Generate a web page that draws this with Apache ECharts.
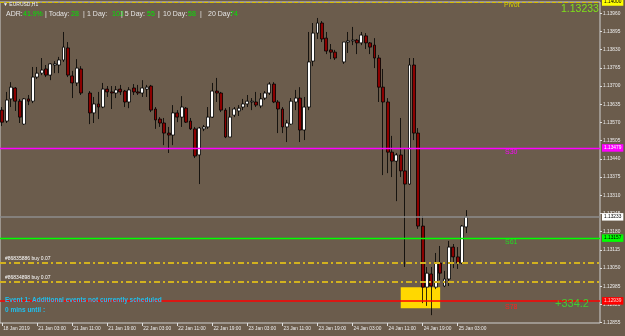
<!DOCTYPE html>
<html>
<head>
  <meta charset="UTF-8">
  <title>EURUSD,H1</title>
  <script src="https://cdn.jsdelivr.net/npm/echarts@6/dist/echarts.min.js"></script>
  <style>
    html, body { margin: 0; padding: 0; background: #6b5c4c; }
    #chart { width: 625px; height: 336px; }
  </style>
</head>
<body>
  <div id="chart"></div>
  <script>
    // H1 candles, [open, close, low, high], '-' = no bar drawn
    const candles = [
      [1.13614, 1.13571, 1.13557, 1.13625],
      [1.13575, 1.13650, 1.13568, 1.13679],
      [1.13654, 1.13696, 1.13625, 1.13714],
      [1.13693, 1.13646, 1.13611, 1.13696],
      [1.13646, 1.13589, 1.13568, 1.13654],
      [1.13564, 1.13654, 1.13561, 1.13657],
      [1.13654, 1.13646, 1.13632, 1.13668],
      [1.13646, 1.13732, 1.13639, 1.13768],
      [1.13732, 1.13746, 1.13725, 1.13768],
      [1.13746, 1.13757, 1.13739, 1.13800],
      [1.13761, 1.13739, 1.13732, 1.13775],
      [1.13739, 1.13779, 1.13721, 1.13782],
      [1.13775, 1.13779, 1.13746, 1.13789],
      [1.13775, 1.13793, 1.13746, 1.13804],
      [1.13793, 1.13839, 1.13786, 1.13893],
      [1.13836, 1.13739, 1.13732, 1.13857],
      [1.13736, 1.13711, 1.13657, 1.13754],
      [1.13711, 1.13764, 1.13700, 1.13796],
      [1.13761, 1.13675, 1.13668, 1.13771],
      '-',
      [1.13675, 1.13604, 1.13564, 1.13682],
      [1.13604, 1.13636, 1.13568, 1.13661],
      [1.13636, 1.13625, 1.13582, 1.13679],
      [1.13625, 1.13689, 1.13621, 1.13711],
      [1.13689, 1.13679, 1.13661, 1.13700],
      [1.13679, 1.13675, 1.13618, 1.13700],
      [1.13675, 1.13686, 1.13657, 1.13700],
      [1.13689, 1.13679, 1.13668, 1.13704],
      [1.13682, 1.13643, 1.13625, 1.13686],
      [1.13643, 1.13686, 1.13621, 1.13696],
      [1.13693, 1.13679, 1.13668, 1.13707],
      [1.13679, 1.13675, 1.13668, 1.13704],
      [1.13675, 1.13693, 1.13661, 1.13721],
      [1.13689, 1.13696, 1.13661, 1.13704],
      [1.13700, 1.13614, 1.13607, 1.13704],
      [1.13618, 1.13579, 1.13547, 1.13625],
      [1.13582, 1.13568, 1.13554, 1.13589],
      [1.13568, 1.13532, 1.13489, 1.13586],
      [1.13532, 1.13525, 1.13461, 1.13554],
      [1.13525, 1.13604, 1.13489, 1.13632],
      [1.13604, 1.13589, 1.13571, 1.13614],
      [1.13589, 1.13625, 1.13554, 1.13664],
      [1.13621, 1.13571, 1.13568, 1.13625],
      [1.13575, 1.13547, 1.13543, 1.13586],
      [1.13547, 1.13450, 1.13443, 1.13554],
      [1.13454, 1.13550, 1.13350, 1.13554],
      [1.13547, 1.13554, 1.13539, 1.13561],
      [1.13554, 1.13589, 1.13547, 1.13625],
      [1.13589, 1.13682, 1.13586, 1.13711],
      [1.13682, 1.13675, 1.13643, 1.13729],
      [1.13675, 1.13614, 1.13607, 1.13679],
      [1.13614, 1.13518, 1.13514, 1.13621],
      [1.13518, 1.13589, 1.13518, 1.13625],
      [1.13596, 1.13618, 1.13589, 1.13625],
      [1.13611, 1.13621, 1.13593, 1.13632],
      [1.13625, 1.13636, 1.13614, 1.13654],
      [1.13636, 1.13646, 1.13625, 1.13668],
      [1.13643, 1.13646, 1.13614, 1.13657],
      [1.13643, 1.13632, 1.13625, 1.13679],
      [1.13629, 1.13654, 1.13621, 1.13675],
      [1.13657, 1.13675, 1.13650, 1.13682],
      [1.13675, 1.13707, 1.13668, 1.13714],
      [1.13707, 1.13643, 1.13639, 1.13714],
      [1.13643, 1.13618, 1.13532, 1.13650],
      [1.13618, 1.13554, 1.13532, 1.13625],
      [1.13554, 1.13568, 1.13500, 1.13579],
      [1.13564, 1.13646, 1.13561, 1.13657],
      [1.13643, 1.13657, 1.13614, 1.13686],
      [1.13657, 1.13543, 1.13500, 1.13696],
      [1.13543, 1.13625, 1.13507, 1.13661],
      [1.13625, 1.13786, 1.13614, 1.13893],
      [1.13789, 1.13889, 1.13771, 1.13925],
      [1.13889, 1.13925, 1.13868, 1.13943],
      [1.13925, 1.13868, 1.13857, 1.13932],
      [1.13871, 1.13825, 1.13814, 1.13893],
      [1.13829, 1.13821, 1.13796, 1.13850],
      [1.13821, 1.13800, 1.13793, 1.13829],
      '-',
      [1.13786, 1.13857, 1.13779, 1.13857],
      [1.13857, 1.13861, 1.13818, 1.13893],
      [1.13861, 1.13864, 1.13846, 1.13911],
      [1.13864, 1.13854, 1.13814, 1.13868],
      [1.13854, 1.13882, 1.13846, 1.13893],
      [1.13879, 1.13854, 1.13832, 1.13889],
      [1.13854, 1.13839, 1.13814, 1.13857],
      [1.13846, 1.13800, 1.13764, 1.13871],
      [1.13800, 1.13696, 1.13643, 1.13811],
      [1.13696, 1.13643, 1.13382, 1.13761],
      [1.13643, 1.13464, 1.13389, 1.13657],
      [1.13464, 1.13432, 1.13375, 1.13522],
      [1.13432, 1.13454, 1.13289, 1.13461],
      [1.13454, 1.13397, 1.13375, 1.13586],
      [1.13397, 1.13350, 1.13054, 1.13475],
      [1.13350, 1.13775, 1.13347, 1.13800],
      [1.13775, 1.13532, 1.13507, 1.13800],
      [1.13532, 1.13200, 1.13190, 1.13550],
      [1.13200, 1.12982, 1.12925, 1.13236],
      [1.12982, 1.13032, 1.12915, 1.13054],
      [1.13029, 1.12986, 1.12882, 1.13054],
      [1.12982, 1.13068, 1.12975, 1.13104],
      [1.13068, 1.13032, 1.13007, 1.13129],
      [1.12986, 1.13011, 1.12982, 1.13040],
      [1.13011, 1.13125, 1.12986, 1.13147],
      [1.13125, 1.13090, 1.13050, 1.13136],
      [1.13090, 1.13068, 1.13047, 1.13125],
      [1.13068, 1.13200, 1.13064, 1.13204],
      [1.13197, 1.13233, 1.13175, 1.13257]
    ];
    const slotCount = 137; // bars + empty chart shift on the right

    // time axis labels (bar index -> text)
    const timeTickBars = [0, 8, 16, 24, 32, 40, 48, 56, 64, 72, 80, 88, 96, 104];
    const timeTickText = ['18 Jan 2019', '21 Jan 03:00', '21 Jan 11:00', '21 Jan 19:00', '22 Jan 03:00',
      '22 Jan 11:00', '22 Jan 19:00', '23 Jan 03:00', '23 Jan 11:00', '23 Jan 19:00',
      '24 Jan 03:00', '24 Jan 11:00', '24 Jan 19:00', '25 Jan 03:00'];

    // price scale
    const priceMin = 1.12854;
    const priceMax = 1.14000;
    const priceTicks = [1.13960, 1.13895, 1.13830, 1.13765, 1.13700, 1.13635, 1.13570, 1.13505, 1.13440,
      1.13375, 1.13310, 1.13245, 1.13180, 1.13115, 1.13050, 1.12985, 1.12920, 1.12855];

    // levels
    const pivotPrice = 1.14000;
    const s30Price = 1.13479;
    const bidPrice = 1.13233;
    const s61Price = 1.13157;
    const s78Price = 1.12933;
    const orderPrices = [1.13068, 1.13001];
    const orderText = ['#86835886 buy 0.07', '#86834898 buy 0.07'];
    // event box: bar range and price range
    const eventBars = [91, 100];
    const eventPrices = [1.12982, 1.12907];

    // ADR panel
    const adrParts = [
      ['ADR:', 'l', 6], ['41.9%', 'g', 23], ['| Today:', 'l', 45], ['28', 'g', 71], ['|', 'l', 83],
      ['1 Day:', 'l', 87], ['103', 'g', 112], ['| 5 Day:', 'l', 121], ['55', 'g', 147], ['|', 'l', 158],
      ['10 Day:', 'l', 163], ['58', 'g', 188], ['|', 'l', 200], ['20 Day:', 'l', 208], ['74', 'g', 230]
    ];

    const FONT = 'Liberation Sans';
    const slots = Array.from({ length: slotCount }, (_, i) => String(i));
    const showTick = (i) => timeTickBars.indexOf(i) >= 0;

    function priceBox(bg, fg, text) {
      return {
        show: true, position: 'end', distance: 2,
        formatter: text,
        backgroundColor: bg, color: fg, fontSize: 4.8, fontFamily: FONT,
        padding: [1.5, 2, 1, 2]
      };
    }

    function label(x, y, text, color, size, bold) {
      return {
        type: 'text', left: x, top: y, z: 100,
        style: { text: text, fill: color, fontSize: size, fontWeight: bold ? 'bold' : 'normal', fontFamily: FONT }
      };
    }

    const chart = echarts.init(document.getElementById('chart'));
    const graphics = [
      label(3, 2, '\u25BC EURUSD,H1', '#f0f0f0', 5),
      label(504, 2, 'Pivot', '#d6d000', 7),
      label(561, 4, bidPrice.toFixed(5), '#7ee01a', 10.5),
      label(505, 149, 'S30', '#ff00ff', 7),
      label(505, 239, 'S61', '#22dd22', 7),
      label(505, 304, 'S78', '#ff2020', 7),
      label(555, 298, '+334.2', '#44cc33', 11),
      label(5, 256, orderText[0], '#ffffff', 5),
      label(5, 275, orderText[1], '#ffffff', 5),
      label(5, 297, 'Event 1: Additional events not currently scheduled', '#1ec0f0', 6.5, true),
      label(5, 307, '0 mins until :', '#1ec0f0', 6.5, true)
    ];
    adrParts.forEach(([t, c, x]) => {
      graphics.push(label(x, 11, t, c === 'g' ? '#00e600' : '#e4e4e4', 7));
    });

    const option = {
      backgroundColor: '#6b5c4c',
      animation: false,
      grid: { left: 0, right: 25, top: 2, bottom: 13, show: true, borderColor: '#d0d0d0', borderWidth: 1 },
      xAxis: {
        type: 'category',
        data: slots,
        boundaryGap: true,
        axisLine: { show: false },
        axisTick: { show: true, interval: showTick, alignWithLabel: true, length: 3, lineStyle: { color: '#e0e0e0' } },
        axisLabel: {
          interval: showTick,
          formatter: (v, i) => timeTickText[timeTickBars.indexOf(i)] || '',
          align: 'left', margin: 3, padding: [0, 0, 0, 1],
          fontSize: 4.8, color: '#ececec', fontFamily: FONT
        },
        splitLine: { show: false }
      },
      yAxis: {
        type: 'value',
        position: 'right',
        min: priceMin,
        max: priceMax,
        axisLine: { show: false },
        axisTick: { show: true, customValues: priceTicks, length: 2, lineStyle: { color: '#e0e0e0' } },
        axisLabel: {
          customValues: priceTicks, formatter: (v) => v.toFixed(5),
          fontSize: 4.8, margin: 3, color: '#ececec', fontFamily: FONT
        },
        splitLine: { show: false }
      },
      series: [{
        // event box, lowest layer
        type: 'line',
        data: [],
        z: 1,
        markArea: {
          silent: true,
          itemStyle: { color: '#ffd800', opacity: 1 },
          data: [[{ coord: [eventBars[0], eventPrices[0]] }, { coord: [eventBars[1], eventPrices[1]] }]]
        }
      }, {
        // level lines
        type: 'line',
        data: [],
        z: 2,
        markLine: {
          silent: true,
          precision: 5,
          symbol: ['none', 'none'],
          animation: false,
          data: [
            { yAxis: pivotPrice, lineStyle: { color: '#d6c000', type: [4, 2], width: 1 }, label: priceBox('#ffff00', '#000000', '1.14000') },
            { yAxis: s30Price, lineStyle: { color: '#ff00ff', type: 'solid', width: 1.3 }, label: priceBox('#ff00ff', '#ffffff', '1.13479') },
            { yAxis: bidPrice, lineStyle: { color: '#8c8c8c', type: 'solid', width: 1.5 }, label: priceBox('#ffffff', '#000000', '1.13233') },
            { yAxis: s61Price, lineStyle: { color: '#00ff00', type: 'solid', width: 1.3 }, label: priceBox('#00ff00', '#000000', '1.13157') },
            { yAxis: s78Price, lineStyle: { color: '#ff0000', type: 'solid', width: 1.5 }, label: priceBox('#ff0000', '#ffd0d0', '1.12939') },
            { yAxis: orderPrices[0], lineStyle: { color: '#d2b21e', type: [6, 3, 2, 3], width: 2 }, label: { show: false } },
            { yAxis: orderPrices[1], lineStyle: { color: '#d2b21e', type: [6, 3, 2, 3], width: 2 }, label: { show: false } }
          ]
        }
      }, {
        type: 'candlestick',
        data: candles,
        barWidth: 3.4,
        z: 3,
        itemStyle: {
          color: '#ffffff', color0: '#8c0000',
          borderColor: '#000000', borderColor0: '#000000', borderWidth: 0.8
        }
      }],
      graphic: graphics
    };
    chart.setOption(option);
  </script>
</body>
</html>
